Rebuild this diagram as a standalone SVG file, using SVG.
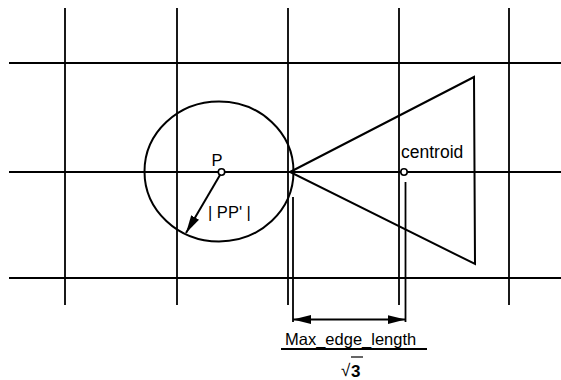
<svg xmlns="http://www.w3.org/2000/svg" width="561" height="380" viewBox="0 0 561 380">
<style>
.ln{stroke:#000;stroke-width:1.8;fill:none}
.th{stroke:#000;stroke-width:2;fill:none}
.pt{stroke:#000;stroke-width:1.6;fill:#fff}
text{font-family:"Liberation Sans",Arial,sans-serif;font-size:16.5px;fill:#000}
</style>
<defs>
<marker id="ah" markerUnits="userSpaceOnUse" markerWidth="19" markerHeight="10" refX="18" refY="4.5" orient="auto-start-reverse" viewBox="0 0 19 9">
<path d="M0,0 L18,4.5 L0,9 z" fill="#000"/>
</marker>
</defs>
<rect width="561" height="380" fill="#fff"/>
<g id="grid">
<line class="ln" x1="9" y1="63" x2="561" y2="63"/>
<line class="ln" x1="9" y1="172" x2="561" y2="172"/>
<line class="ln" x1="9" y1="278" x2="561" y2="278"/>
<line class="ln" x1="65" y1="8" x2="65" y2="305"/>
<line class="ln" x1="177" y1="8" x2="177" y2="305"/>
<line class="ln" x1="288" y1="8" x2="288" y2="305"/>
<line class="ln" x1="399" y1="8" x2="399" y2="305"/>
<line class="ln" x1="509" y1="8" x2="509" y2="305"/>
</g>
<g id="circle">
<ellipse class="th" cx="219" cy="171.5" rx="74.5" ry="70"/>
</g>
<g id="triangle">
<polygon class="th" points="290,172 474,77 475,264"/>
</g>
<g id="P">
<circle class="pt" cx="221.5" cy="172" r="3.2"/>
<text x="211.5" y="165.5">P</text>
</g>
<g id="centroid">
<circle class="pt" cx="404" cy="172" r="3.2"/>
<text x="401" y="157.5" style="font-size:17.5px">centroid</text>
</g>
<g id="connectors">
<line class="th" x1="220" y1="175" x2="186" y2="233" marker-end="url(#ah)"/>
<line class="ln" x1="293" y1="197" x2="293" y2="322"/>
<line class="ln" x1="405.5" y1="182" x2="405.5" y2="322"/>
<line class="th" x1="293" y1="319.5" x2="405.5" y2="319.5" marker-start="url(#ah)" marker-end="url(#ah)"/>
</g>
<g id="labels">
<text x="208" y="217.5">| PP' |</text>
<text x="285" y="345">Max_edge_length</text>
<line class="ln" x1="281" y1="349" x2="427" y2="349"/>
<text x="341" y="376" style="font-size:17px">√</text>
<line stroke="#000" stroke-width="1.2" x1="351" y1="357" x2="363" y2="357"/>
<text x="351" y="377" style="font-size:17px;font-weight:bold">3</text>
</g>
</svg>
